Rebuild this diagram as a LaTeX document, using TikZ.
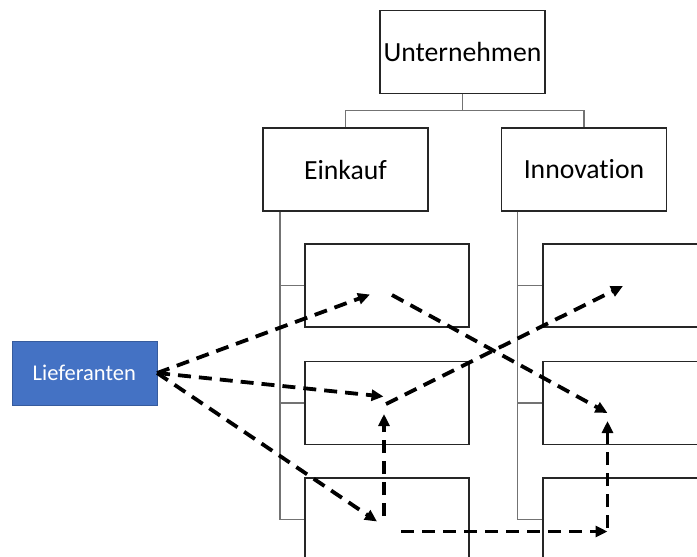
\documentclass[tikz,border=0pt]{standalone}
\usepackage{fontspec}
\setmainfont{Carlito}[Ligatures={NoCommon}]
\usetikzlibrary{arrows.meta}
\definecolor{liefblue}{HTML}{4472C4}
\tikzset{
  unit/.style={draw=black!85, line width=1.1pt, fill=white, inner sep=0pt,
    minimum width=165pt, minimum height=83pt,
    font=\fontsize{27.7}{33}\selectfont},
  subbox/.style={draw=black!85, line width=1.1pt, inner sep=0pt,
    minimum width=164pt, minimum height=83pt},
  orgline/.style={draw=black!55, line width=1.4pt},
  flow/.style={line width=3.8pt, dash pattern=on 13pt off 8pt,
    -{Triangle[length=12pt,width=11pt]}},
}
\begin{document}
\begin{tikzpicture}[x=1pt,y=-1pt]
\clip (0,0) rectangle (697,557);
\fill[white] (0,0) rectangle (697,557);

% organisation chart
\node[unit] (top) at (462.5,52) {Unternehmen};
\node[unit] (ein) at (345.5,169.5) {Einkauf};
\node[unit] (inn) at (584,169.5) {Innovation};

\node[subbox] (l1) at (387,285.5) {};
\node[subbox] (l2) at (387,403) {};
\node[subbox] (l3) at (387,519.5) {};
\node[subbox] (r1) at (625,285.5) {};
\node[subbox] (r2) at (625,403) {};
\node[subbox] (r3) at (625,519.5) {};

\coordinate (fork) at (462.5,110.7);
\draw[orgline] (top.south) -- (fork);
\draw[orgline] (ein.north) |- (fork) -| (inn.north);

\draw[orgline] ([xshift=17.5pt]ein.south west) |- (l3.west);
\foreach \b in {l1,l2}
  \draw[orgline] ([xshift=17.5pt]ein.south west |- \b.west) -- (\b.west);
\draw[orgline] ([xshift=16.5pt]inn.south west) |- (r3.west);
\foreach \b in {r1,r2}
  \draw[orgline] ([xshift=16.5pt]inn.south west |- \b.west) -- (\b.west);

% supplier
\node[fill=liefblue, draw=liefblue!80!black, line width=0.6pt,
  minimum width=145pt, minimum height=64pt, inner sep=0pt,
  text=white, font=\fontsize{22.5}{26}\selectfont] (lief) at (84.3,373) {Lieferanten};

% flow end points
\coordinate (a1) at (370,294.5);
\coordinate (a2) at (383.5,396.5);
\coordinate (a3) at (377,521.5);
\coordinate (b1s) at (392,295);
\coordinate (b1e) at (607.5,413);
\coordinate (b2s) at (386,404);
\coordinate (b2e) at (623,286);
\coordinate (c1s) at (384,516);
\coordinate (c1e) at (384,414);
\coordinate (c2s) at (401,531.5);
\coordinate (c2e) at (607.5,531.5);
\coordinate (c3s) at (607.5,528);
\coordinate (c3e) at (607.5,421);

\draw[flow] (lief.east) -- (a1);
\draw[flow] (lief.east) -- (a2);
\draw[flow] (lief.east) -- (a3);
\draw[flow] (b1s) -- (b1e);
\draw[flow] (b2s) -- (b2e);
\draw[flow] (c1s) -- (c1e);
\draw[flow] (c2s) -- (c2e);
\draw[flow] (c3s) -- (c3e);
\end{tikzpicture}
\end{document}
